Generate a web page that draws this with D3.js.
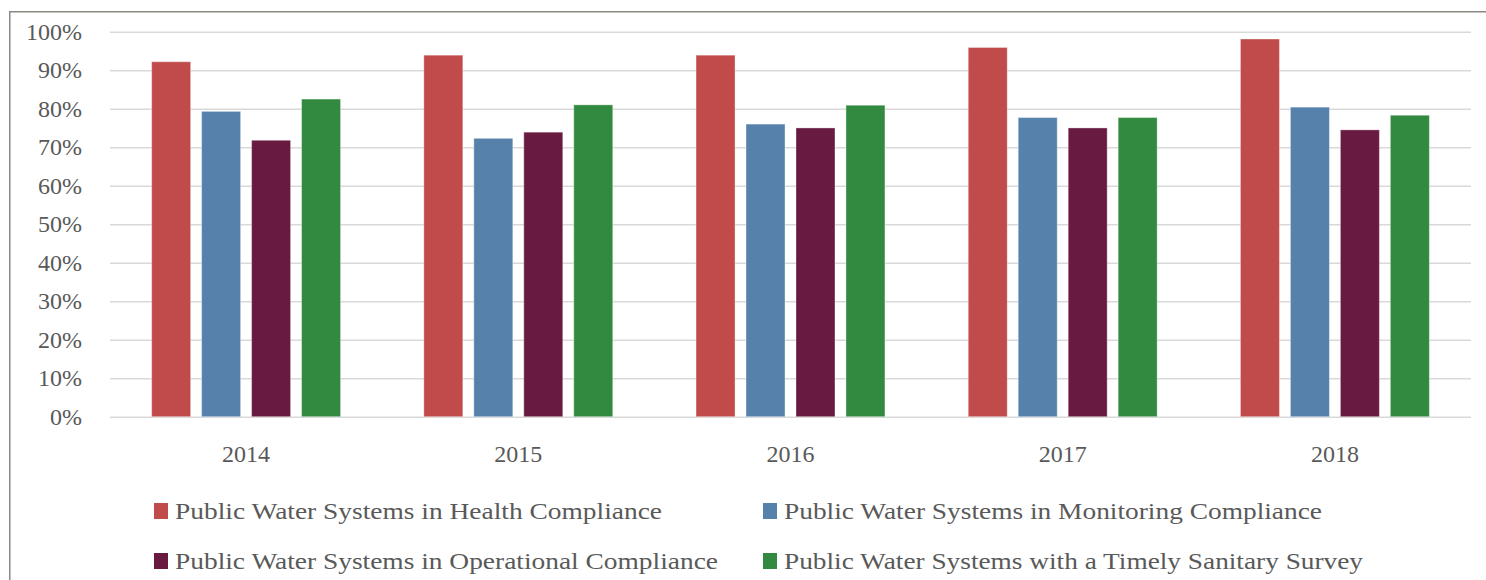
<!DOCTYPE html>
<html><head><meta charset="utf-8">
<script src="https://cdn.jsdelivr.net/npm/d3@7"></script>
<style>
html,body{margin:0;padding:0;background:#fff;}
svg{display:block;}
text{font-family:"Palatino Linotype","Book Antiqua",Palatino,"Liberation Serif",serif;fill:#595959;}
</style></head>
<body>
<svg id="chart" width="1486" height="580"></svg>
<script>
const years = ["2014","2015","2016","2017","2018"];
const seriesNames = [
  "Public Water Systems in Health Compliance",
  "Public Water Systems in Monitoring Compliance",
  "Public Water Systems in Operational Compliance",
  "Public Water Systems with a Timely Sanitary Survey"
];
const health      = [92.2, 93.9, 93.9, 95.9, 98.1];
const monitoring  = [79.3, 72.3, 76.0, 77.7, 80.4];
const operational = [71.8, 73.9, 75.0, 75.0, 74.5];
const sanitary    = [82.5, 81.0, 80.9, 77.7, 78.3];
const yTicks = [0,10,20,30,40,50,60,70,80,90,100];
const colors = ["#C04B4A","#5581AB","#691A40","#328A40"];

(function(){
const seriesValues = [health, monitoring, operational, sanitary];
const svg = d3.select("#chart");
const FONT = '"Palatino Linotype","Book Antiqua",Palatino,"Liberation Serif",serif';

// frame
svg.append("path").attr("d","M9.75,580 L9.75,11.75 L1486,11.75")
  .attr("fill","none").attr("stroke","#8c8782").attr("stroke-width",1.5);

const pL = 110, pR = 1471, pT = 31.7, pB = 416.7;
const y = d3.scaleLinear().domain([0,100]).range([pB, pT]);
const x0 = d3.scaleBand().domain(years).range([pL,pR]).paddingInner(0.306).paddingOuter(0.153);
const x1 = d3.scaleBand().domain(d3.range(4)).range([0,x0.bandwidth()]).paddingInner(0.22).paddingOuter(0);

// gridlines
const yAxis = d3.axisLeft(y).tickValues(yTicks).tickSize(-(pR-pL)).tickFormat(d=>d+"%");
const ga = svg.append("g").attr("transform",`translate(${pL},0)`).call(yAxis);
ga.select(".domain").remove();
ga.selectAll(".tick line").attr("stroke","#d9d9d9").attr("stroke-width",1.5);
ga.selectAll(".tick text").attr("x",-28).attr("font-size",24).attr("fill","#595959")
  .style("font-family",FONT);

// bars
const groups = svg.append("g").selectAll("g").data(years).join("g")
  .attr("transform",d=>`translate(${x0(d)},0)`);
groups.selectAll("rect").data((d,i)=>seriesValues.map((s,k)=>({k, v:s[i]}))).join("rect")
  .attr("x",d=>x1(d.k)).attr("width",x1.bandwidth())
  .attr("y",d=>y(d.v)).attr("height",d=>y(0)-y(d.v))
  .attr("fill",d=>colors[d.k]).attr("stroke","#fff").attr("stroke-opacity",0.35).attr("stroke-width",1);

// x axis labels
const xAxis = d3.axisBottom(x0).tickSize(0).tickPadding(0);
const gx = svg.append("g").attr("transform",`translate(0,${pB})`).call(xAxis);
gx.select(".domain").remove();
gx.selectAll(".tick text").attr("y",45).attr("dy",0).attr("font-size",24).attr("fill","#595959")
  .style("font-family",FONT);

// legend
const legPos = [[154,511],[763,511],[154,561],[763,561]];
const legLen = [487, 538, 543, 579];
const leg = svg.append("g").selectAll("g").data(seriesNames).join("g")
  .attr("transform",(d,i)=>`translate(${legPos[i][0]},${legPos[i][1]})`);
leg.append("rect").attr("x",0).attr("y",-8).attr("width",14).attr("height",16)
  .attr("fill",(d,i)=>colors[i]);
leg.append("text").attr("x",21).attr("y",8).attr("font-size",24)
  .attr("textLength",(d,i)=>legLen[i]).attr("lengthAdjust","spacingAndGlyphs").text(d=>d);
})();
</script>
</body></html>
